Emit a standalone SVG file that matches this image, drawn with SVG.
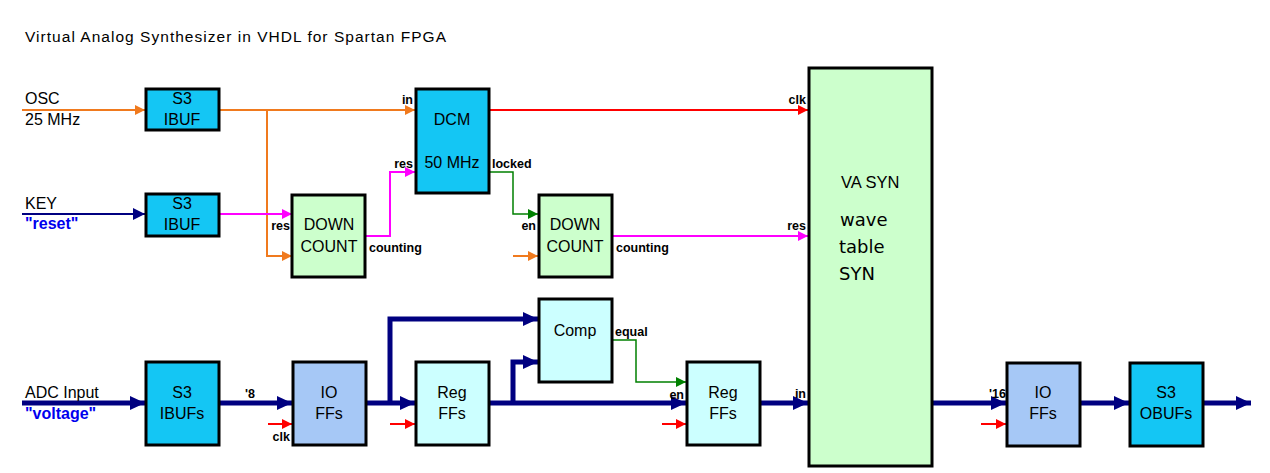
<svg xmlns="http://www.w3.org/2000/svg" width="1270" height="473" viewBox="0 0 1270 473">
<style>
text{font-family:"Liberation Sans",Arial,sans-serif;fill:#000}
.box{stroke:#000;stroke-width:3}
.cy{fill:#14C6F4}
.gr{fill:#CCFFCC}
.lb{fill:#A6C8F6}
.lc{fill:#CCFFFF}
.bt{font-size:16px;text-anchor:middle}
.pl{font-size:12.5px;font-weight:bold}
.pe{text-anchor:end}
.lt{font-size:16px}
.bl{fill:#0000EE;font-weight:bold}
.dv{font-family:"DejaVu Sans",Verdana,sans-serif;font-size:18px}
.w{fill:none}
.or{stroke:#F07A1E;stroke-width:2}
.mg{stroke:#FF00FF;stroke-width:2}
.rd{stroke:#FF0000;stroke-width:2}
.gn{stroke:#008000;stroke-width:1.5}
.nt{stroke:#000080;stroke-width:2}
.nk{stroke:#000080;stroke-width:5}
</style>
<defs>
<marker id="aor" markerUnits="userSpaceOnUse" markerWidth="10" markerHeight="10" refX="10" refY="5" orient="auto"><path d="M0,0 L10,5 L0,10 z" fill="#F07A1E"/></marker>
<marker id="amg" markerUnits="userSpaceOnUse" markerWidth="10" markerHeight="10" refX="10" refY="5" orient="auto"><path d="M0,0 L10,5 L0,10 z" fill="#FF00FF"/></marker>
<marker id="ard" markerUnits="userSpaceOnUse" markerWidth="10" markerHeight="10" refX="10" refY="5" orient="auto"><path d="M0,0 L10,5 L0,10 z" fill="#FF0000"/></marker>
<marker id="agn" markerUnits="userSpaceOnUse" markerWidth="10" markerHeight="10" refX="10" refY="5" orient="auto"><path d="M0,0 L10,5 L0,10 z" fill="#008000"/></marker>
<marker id="ant" markerUnits="userSpaceOnUse" markerWidth="12" markerHeight="12" refX="12" refY="6" orient="auto"><path d="M0,0 L12,6 L0,12 z" fill="#000080"/></marker>
<marker id="ank" markerUnits="userSpaceOnUse" markerWidth="15" markerHeight="14" refX="15" refY="7" orient="auto"><path d="M0,0 L15,7 L0,14 z" fill="#000080"/></marker>
</defs>

<text x="25" y="42" style="font-size:15.5px" textLength="421" lengthAdjust="spacing">Virtual Analog Synthesizer in VHDL for Spartan FPGA</text>

<g id="connectors" class="w">
<path class="or" d="M22,110 H145" marker-end="url(#aor)"/>
<path class="or" d="M220,110 H415" marker-end="url(#aor)"/>
<path class="or" d="M267,110 V256 H292" marker-end="url(#aor)"/>
<path class="or" d="M513,256 H538" marker-end="url(#aor)"/>
<path class="nt" d="M22,214 H145" marker-end="url(#ant)"/>
<path class="mg" d="M220,214 H292" marker-end="url(#amg)"/>
<path class="mg" d="M366,236 H390 V172 H415" marker-end="url(#amg)"/>
<path class="mg" d="M612,236 H808" marker-end="url(#amg)"/>
<path class="rd" d="M490,110 H808" marker-end="url(#ard)"/>
<path class="gn" d="M490,172 H513 V214 H538" marker-end="url(#agn)"/>
<path class="gn" d="M612,340 H636 V382 H686" marker-end="url(#agn)"/>
<path class="rd" d="M268,424 H292" marker-end="url(#ard)"/>
<path class="rd" d="M390,424 H415" marker-end="url(#ard)"/>
<path class="rd" d="M662,424 H686" marker-end="url(#ard)"/>
<path class="rd" d="M981,424 H1006" marker-end="url(#ard)"/>
<path class="nk" d="M22,403 H145" marker-end="url(#ank)"/>
<path class="nk" d="M220,403 H292" marker-end="url(#ank)"/>
<path class="nk" d="M366,403 H415" marker-end="url(#ank)"/>
<path class="nk" d="M390,403 V319 H538" marker-end="url(#ank)"/>
<path class="nk" d="M490,403 H686" marker-end="url(#ank)"/>
<path class="nk" d="M513,403 V362 H538" marker-end="url(#ank)"/>
<path class="nk" d="M761,403 H808" marker-end="url(#ank)"/>
<path class="nk" d="M933,403 H1006" marker-end="url(#ank)"/>
<path class="nk" d="M1080,403 H1129" marker-end="url(#ank)"/>
<path class="nk" d="M1203,403 H1251" marker-end="url(#ank)"/>
</g>

<g id="labels">
<text class="lt" x="25" y="104">OSC</text>
<text class="lt" x="25" y="125">25 MHz</text>
<text class="lt" x="25" y="209">KEY</text>
<text class="lt bl" x="25" y="229">"reset"</text>
<text class="lt" x="25" y="398">ADC Input</text>
<text class="lt bl" x="25" y="419">"voltage"</text>
<text class="pl pe" x="413" y="104">in</text>
<text class="pl pe" x="413" y="168">res</text>
<text class="pl pe" x="290" y="230">res</text>
<text class="pl" x="369" y="252">counting</text>
<text class="pl" x="492" y="168">locked</text>
<text class="pl pe" x="536" y="230">en</text>
<text class="pl" x="616" y="252">counting</text>
<text class="pl pe" x="806" y="104">clk</text>
<text class="pl pe" x="806" y="230">res</text>
<text class="pl" x="245" y="398">'8</text>
<text class="pl pe" x="290" y="441">clk</text>
<text class="pl" x="615" y="336">equal</text>
<text class="pl pe" x="684" y="399">en</text>
<text class="pl pe" x="806" y="398">in</text>
<text class="pl pe" x="1006" y="398">'16</text>
</g>

<g id="ibuf-osc"><rect class="box cy" x="146" y="89" width="73" height="41"/><text class="bt" x="182" y="104">S3</text><text class="bt" x="182" y="125">IBUF</text></g>
<g id="ibuf-key"><rect class="box cy" x="146" y="194" width="73" height="42"/><text class="bt" x="182" y="209">S3</text><text class="bt" x="182" y="230">IBUF</text></g>
<g id="downcount1"><rect class="box gr" x="292" y="195" width="73" height="82"/><text class="bt" x="329" y="230">DOWN</text><text class="bt" x="329" y="252">COUNT</text></g>
<g id="dcm"><rect class="box cy" x="416" y="89" width="73" height="104"/><text class="bt" x="452" y="125">DCM</text><text class="bt" x="452" y="168">50 MHz</text></g>
<g id="downcount2"><rect class="box gr" x="539" y="195" width="73" height="82"/><text class="bt" x="575" y="230">DOWN</text><text class="bt" x="575" y="252">COUNT</text></g>
<g id="vasyn"><rect class="box gr" x="809" y="68" width="123" height="398"/><text x="841" y="188" style="font-size:16.5px">VA SYN</text><text class="dv" x="840" y="226">wave</text><text class="dv" x="839" y="253">table</text><text class="dv" x="839" y="280">SYN</text></g>
<g id="ibufs"><rect class="box cy" x="146" y="362" width="73" height="83"/><text class="bt" x="182" y="398">S3</text><text class="bt" x="182" y="419">IBUFs</text></g>
<g id="ioffs-in"><rect class="box lb" x="293" y="362" width="73" height="83"/><text class="bt" x="329" y="398">IO</text><text class="bt" x="329" y="419">FFs</text></g>
<g id="regffs1"><rect class="box lc" x="416" y="362" width="73" height="83"/><text class="bt" x="452" y="398">Reg</text><text class="bt" x="452" y="419">FFs</text></g>
<g id="comp"><rect class="box lc" x="539" y="299" width="73" height="83"/><text class="bt" x="575" y="336">Comp</text></g>
<g id="regffs2"><rect class="box lc" x="687" y="362" width="73" height="83"/><text class="bt" x="723" y="398">Reg</text><text class="bt" x="723" y="419">FFs</text></g>
<g id="ioffs-out"><rect class="box lb" x="1007" y="363" width="73" height="83"/><text class="bt" x="1043" y="398">IO</text><text class="bt" x="1043" y="419">FFs</text></g>
<g id="obufs"><rect class="box cy" x="1130" y="363" width="73" height="83"/><text class="bt" x="1166" y="398">S3</text><text class="bt" x="1166" y="419">OBUFs</text></g>
</svg>
